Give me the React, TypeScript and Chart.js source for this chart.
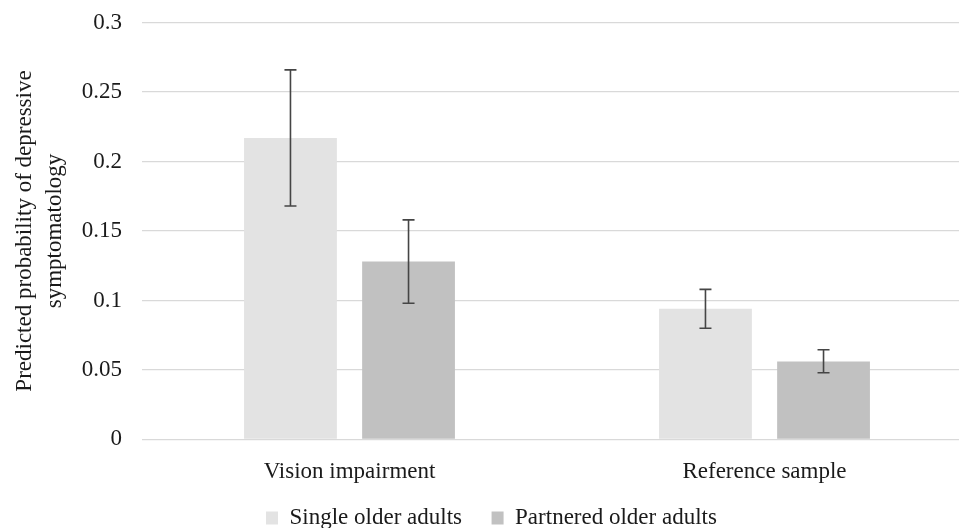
import React, { useEffect, useRef } from 'react';
import { Chart, registerables } from 'chart.js';

Chart.register(...registerables);

// ---- data ----
const categories = ['Vision impairment', 'Reference sample'];
const seriesNames = ['Single older adults', 'Partnered older adults'];
const singleValues = [0.217, 0.094];
const singleLow = [0.168, 0.08];
const singleHigh = [0.266, 0.108];
const partneredValues = [0.128, 0.056];
const partneredLow = [0.098, 0.048];
const partneredHigh = [0.158, 0.0645];
const yTickLabels = ['0', '0.05', '0.1', '0.15', '0.2', '0.25', '0.3'];
const yTitle = ['Predicted probability of depressive', 'symptomatology'];

const FONT = '"Liberation Serif", "Times New Roman", serif';
const TEXT = '#1a1a1a';
const CANVAS_W = 972;
const CANVAS_H = 580;
const PLOT_BOTTOM = 439.4;
const LEGEND_X = 266;
const LEGEND_MID_Y = 518;

const errorBarPlugin = {
  id: 'errorBars',
  afterDatasetsDraw(chart: any) {
    const ctx = chart.ctx;
    const y = chart.scales.y;
    const ranges = [
      [singleLow, singleHigh],
      [partneredLow, partneredHigh],
    ];
    ctx.save();
    ctx.strokeStyle = '#454545';
    ctx.lineWidth = 1.6;
    chart.data.datasets.forEach((_ds: any, i: number) => {
      const meta = chart.getDatasetMeta(i);
      meta.data.forEach((bar: any, j: number) => {
        const x = bar.x;
        const lo = y.getPixelForValue(ranges[i][0][j]);
        const hi = y.getPixelForValue(ranges[i][1][j]);
        ctx.beginPath();
        ctx.moveTo(x, lo);
        ctx.lineTo(x, hi);
        ctx.moveTo(x - 6, lo);
        ctx.lineTo(x + 6, lo);
        ctx.moveTo(x - 6, hi);
        ctx.lineTo(x + 6, hi);
        ctx.stroke();
      });
    });
    ctx.restore();
  },
};

const legendPlacer = {
  id: 'legendPlacer',
  beforeDraw(chart: any) {
    const lg = chart.legend;
    if (!lg) return;
    const pad = lg.options.labels.padding;
    const fs = lg.options.labels.font.size;
    const w = lg.width;
    const h = lg.height;
    lg.left = LEGEND_X - pad;
    lg.right = lg.left + w;
    lg.top = LEGEND_MID_Y - pad - fs / 2;
    lg.bottom = lg.top + h;
  },
};

export default function App() {
  const ref = useRef<HTMLCanvasElement | null>(null);

  useEffect(() => {
    if (!ref.current) return;
    const chart = new Chart(ref.current, {
      type: 'bar',
      data: {
        labels: categories,
        datasets: [
          {
            label: seriesNames[0],
            data: singleValues,
            backgroundColor: '#E3E3E3',
            borderWidth: 0,
            categoryPercentage: 0.569,
            barPercentage: 0.786,
          },
          {
            label: seriesNames[1],
            data: partneredValues,
            backgroundColor: '#C1C1C1',
            borderWidth: 0,
            categoryPercentage: 0.569,
            barPercentage: 0.786,
          },
        ],
      },
      options: {
        responsive: false,
        animation: false,
        devicePixelRatio: 1,
        layout: { padding: { top: 22.6, left: 0, right: 0, bottom: 0 } },
        plugins: {
          tooltip: { enabled: false },
          legend: {
            display: true,
            position: 'bottom',
            align: 'start',
            labels: {
              boxWidth: 12,
              boxHeight: 13,
              padding: 29.6,
              color: TEXT,
              font: { family: FONT, size: 23 },
            },
          },
        },
        scales: {
          x: {
            grid: { display: false },
            border: { display: false },
            ticks: {
              color: TEXT,
              padding: 11,
              font: { family: FONT, size: 23 },
              maxRotation: 0,
            },
            afterFit(scale: any) {
              const lh = scale.chart.legend ? scale.chart.legend.height : 0;
              scale.height = Math.max(0, CANVAS_H - PLOT_BOTTOM - lh);
            },
          },
          y: {
            min: 0,
            max: 0.3,
            border: { display: false },
            grid: { color: '#D9D9D9', lineWidth: 1.3, drawTicks: false },
            ticks: {
              stepSize: 0.05,
              padding: 20,
              color: TEXT,
              font: { family: FONT, size: 23 },
              callback: (_v: any, i: number) => yTickLabels[i],
            },
            title: {
              display: true,
              text: yTitle,
              color: TEXT,
              font: { family: FONT, size: 23, lineHeight: 30 / 23 },
              padding: { top: 9.5, bottom: 0 },
            },
            afterFit(scale: any) {
              scale.width = 142;
              scale.paddingTop = 0;
              scale.paddingBottom = 0;
            },
          },
        },
      },
      plugins: [errorBarPlugin, legendPlacer],
    } as any);
    return () => chart.destroy();
  }, []);

  return (
    <div
      style={{
        position: 'fixed',
        left: 0,
        top: 0,
        width: 959,
        height: 528,
        overflow: 'hidden',
        background: '#ffffff',
      }}
    >
      <canvas
        ref={ref}
        width={CANVAS_W}
        height={CANVAS_H}
        style={{ display: 'block', width: CANVAS_W, height: CANVAS_H }}
      />
    </div>
  );
}
